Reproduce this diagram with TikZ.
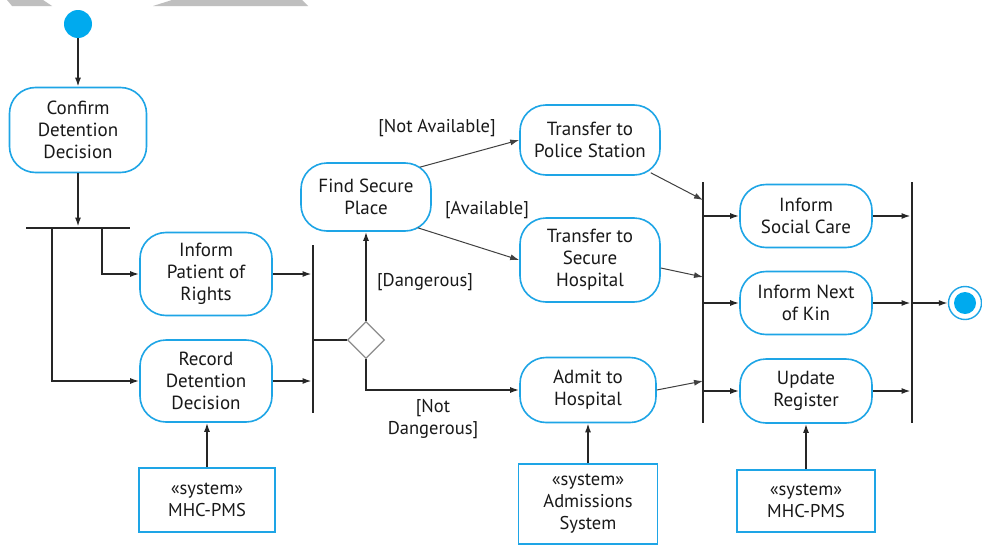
\documentclass[tikz,border=0pt]{standalone}
\usepackage{fontspec}
\setmainfont{PT Sans}
\usetikzlibrary{arrows.meta,shapes.geometric}
\definecolor{umlblue}{RGB}{30,165,230}
\definecolor{startblue}{RGB}{0,170,238}
\begin{document}
\begin{tikzpicture}[x=1pt,y=-1pt,
  every node/.style={font=\fontsize{19}{22}\selectfont, text=black!90},
  act/.style={draw=umlblue, line width=1.6pt, rounded corners=26pt, align=center, inner sep=0pt, fill=white},
  sys/.style={draw=umlblue, line width=1.8pt, align=center, inner sep=0pt, fill=white, font=\fontsize{18.5}{22}\selectfont},
  vbar/.style={fill=black!85, inner sep=0pt, minimum width=2.4pt},
  hbar/.style={fill=black!85, inner sep=0pt, minimum height=2.4pt},
  plain/.style={draw=black!85, line width=1.6pt},
  flow/.style={draw=black!85, line width=1.6pt, -{Latex[length=9pt,width=6pt]}},
  flowthin/.style={draw=black!75, line width=1pt, -{Latex[length=9pt,width=6pt]}},
  guard/.style={font=\fontsize{18.5}{22}\selectfont, align=center},
]
\fill[white] (0,0) rectangle (982,546);
\useasboundingbox (0,0) rectangle (982,546);
\fill[gray!50] (7,0) -- (43,0) -- (52,6) -- (12,6) -- cycle;
\fill[gray!50] (153,6) -- (172,0) -- (302,0) -- (308,6) -- cycle;

% initial / final
\node[circle, fill=startblue, minimum size=28pt, inner sep=0pt] (start) at (78,24) {};
\node[circle, draw=umlblue, line width=1.4pt, fill=white, minimum size=33pt, inner sep=0pt] (endc) at (965,303) {};
\node[circle, fill=startblue, minimum size=22pt, inner sep=0pt] (endi) at (endc.center) {};

% activities
\node[act, minimum width=137pt, minimum height=85pt] (cdd) at (78,130) {Confirm\\Detention\\Decision};
\node[act, minimum width=132pt, minimum height=83pt] (ipr) at (206,274) {Inform\\Patient of\\Rights};
\node[act, minimum width=132pt, minimum height=82pt] (rdd) at (206,381) {Record\\Detention\\Decision};
\node[act, minimum width=130pt, minimum height=68pt] (fsp) at (366,197) {Find Secure\\Place};
\node[act, minimum width=140pt, minimum height=70pt] (tps) at (590,140) {Transfer to\\Police Station};
\node[act, minimum width=140pt, minimum height=84pt] (tsh) at (590,260) {Transfer to\\Secure\\Hospital};
\node[act, minimum width=136pt, minimum height=65pt] (adm) at (588,390) {Admit to\\Hospital};
\node[act, minimum width=132pt, minimum height=63pt] (isc) at (806,216) {Inform\\Social Care};
\node[act, minimum width=132pt, minimum height=63pt] (ink) at (806,303) {Inform Next\\of Kin};
\node[act, minimum width=132pt, minimum height=64pt] (upr) at (806,391) {Update\\Register};

% systems
\node[sys, minimum width=136pt, minimum height=64pt] (sys1) at (207,500) {«system»\\MHC-PMS};
\node[sys, minimum width=139pt, minimum height=80pt] (sys2) at (588,504) {«system»\\Admissions\\System};
\node[sys, minimum width=138pt, minimum height=62pt] (sys3) at (806,501) {«system»\\MHC-PMS};

% bars and decision
\node[hbar, minimum width=104pt] (fork) at (78,228) {};
\node[vbar, minimum height=168pt] (join1) at (313,329) {};
\node[vbar, minimum height=241pt] (join2) at (703,302) {};
\node[vbar, minimum height=241pt] (join3) at (912,302) {};
\node[diamond, draw=black!45, line width=1.2pt, fill=white, minimum width=37pt, minimum height=37pt, inner sep=0pt] (dec) at (366,340) {};

\coordinate (j2a) at (703,200);
\coordinate (j2b) at (703,277);
\coordinate (j2c) at (703,381);

% connectors
\draw[flow] (start) -- (cdd);
\draw[flow] (cdd) -- (fork);
\draw[flow] ([xshift=24pt]fork.center) |- (ipr.west);
\draw[flow] ([xshift=-26pt]fork.center) |- (rdd.west);
\draw[flow] (ipr.east) -- (ipr.east -| join1.west);
\draw[flow] (rdd.east) -- (rdd.east -| join1.west);
\draw[plain] (join1.center |- dec.west) -- (dec.west);
\draw[flow] (dec.north) -- (fsp.south);
\draw[flow] (dec.south) |- (adm.west);
\draw[flowthin] ([xshift=-12pt,yshift=-5pt]fsp.north east) -- (tps.west);
\draw[flowthin] ([xshift=-14pt,yshift=4pt]fsp.south east) -- (tsh.west);
\draw[flowthin] ([xshift=-10pt,yshift=3pt]tps.south east) -- (j2a);
\draw[flowthin] ([yshift=-8pt]tsh.east) -- (j2b);
\draw[flowthin] (adm.east) -- (j2c);
\draw[flow] (join2.center |- isc.west) -- (isc.west);
\draw[flow] (join2.center |- ink.west) -- (ink.west);
\draw[flow] (join2.center |- upr.west) -- (upr.west);
\draw[flow] (isc.east) -- (isc.east -| join3.west);
\draw[flow] (ink.east) -- (ink.east -| join3.west);
\draw[flow] (upr.east) -- (upr.east -| join3.west);
\draw[flow] (join3.center |- endc.west) -- (endc.west);
\draw[flow] (sys1.north) -- (sys1.north |- rdd.south);
\draw[flow] (sys2.north) -- (sys2.north |- adm.south);
\draw[flow] (sys3.north) -- (sys3.north |- upr.south);

% guards
\node[guard] (lna) at (437,128) {[Not Available]};
\node[guard] (lav) at (487,210) {[Available]};
\node[guard] (ldg) at (425,282) {[Dangerous]};
\node[guard] (lnd) at (433,419) {[Not\\Dangerous]};
\end{tikzpicture}
\end{document}
